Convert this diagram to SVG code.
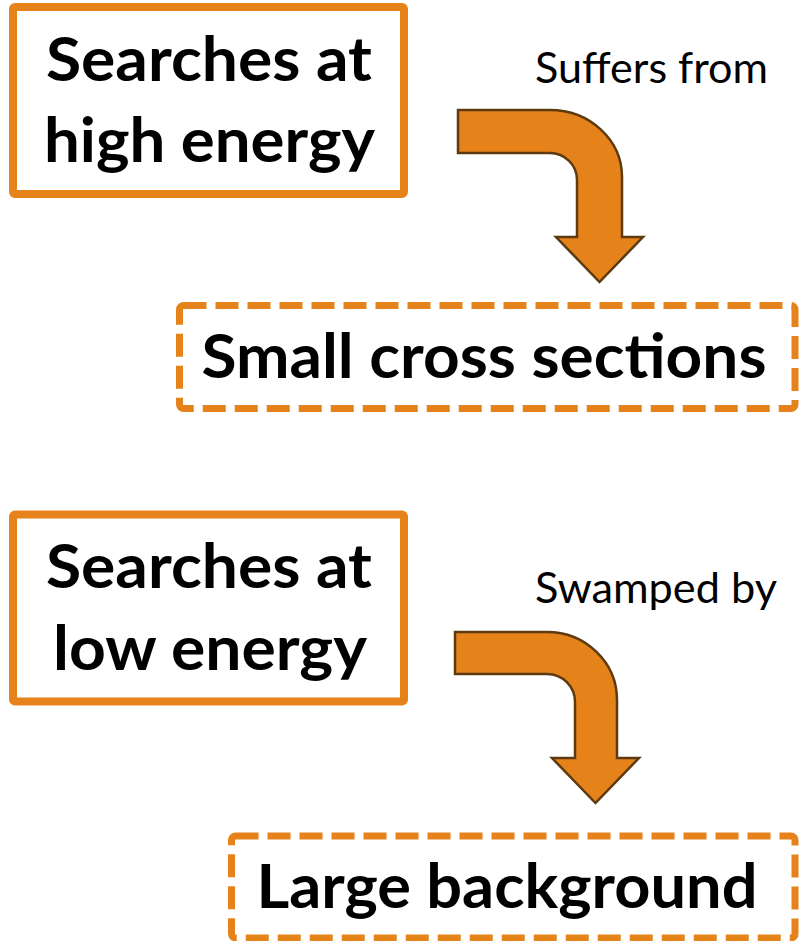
<svg xmlns="http://www.w3.org/2000/svg" width="804" height="941" viewBox="0 0 804 941">
<style>
.box{fill:#FFFFFF;stroke:#E5821A;stroke-width:8}
.dbox{fill:#FFFFFF;stroke:#E5821A;stroke-width:7;stroke-dasharray:23 9}
.big{font-family:Lato,"Open Sans","Liberation Sans",sans-serif;font-weight:bold;font-size:61px;fill:#000000;text-anchor:middle}
.lbl{font-family:Lato,"Open Sans","Liberation Sans",sans-serif;font-size:42px;fill:#000000}
.arrow{fill:#E5821A;stroke:#5E3A10;stroke-width:2.5;stroke-linejoin:miter}
</style>
<rect width="804" height="941" fill="#FFFFFF"/>
<g id="node-high">
<rect class="box" x="13" y="7" width="391" height="187" rx="2"/>
<text class="big" x="209" y="81" textLength="326" lengthAdjust="spacingAndGlyphs">Searches at</text>
<text class="big" x="209.5" y="162" textLength="331" lengthAdjust="spacingAndGlyphs">high energy</text>
</g>
<g id="node-small">
<rect class="dbox" x="179.5" y="305.5" width="615.5" height="103" rx="4"/>
<text class="big" x="484" y="378" textLength="565" lengthAdjust="spacingAndGlyphs">Small cross sections</text>
</g>
<g id="node-low">
<rect class="box" x="13" y="514.5" width="391" height="187" rx="2"/>
<text class="big" x="209" y="588" textLength="326" lengthAdjust="spacingAndGlyphs">Searches at</text>
<text class="big" x="210" y="670" textLength="314" lengthAdjust="spacingAndGlyphs">low energy</text>
</g>
<g id="node-large">
<rect class="dbox" x="231.5" y="836" width="563.5" height="102" rx="4"/>
<text class="big" x="507" y="908" textLength="501" lengthAdjust="spacingAndGlyphs">Large background</text>
</g>
<g id="connectors">
<path class="arrow" d="M458,110 L550,110 A72,67 0 0 1 622,177 L622,237 L643,237 L599.5,282 L556,237 L577,237 L577,180 A27,27 0 0 0 550,153 L458,153 Z"/>
<text class="lbl" x="535" y="83" textLength="233" lengthAdjust="spacingAndGlyphs">Suffers from</text>
<path class="arrow" d="M455,632 L547,632 A70,68 0 0 1 617,700 L617,758 L639,758 L595.5,803 L552,758 L575,758 L575,702 A28,28 0 0 0 547,674 L455,674 Z"/>
<text class="lbl" x="535" y="603" textLength="242" lengthAdjust="spacingAndGlyphs">Swamped by</text>
</g>
</svg>
